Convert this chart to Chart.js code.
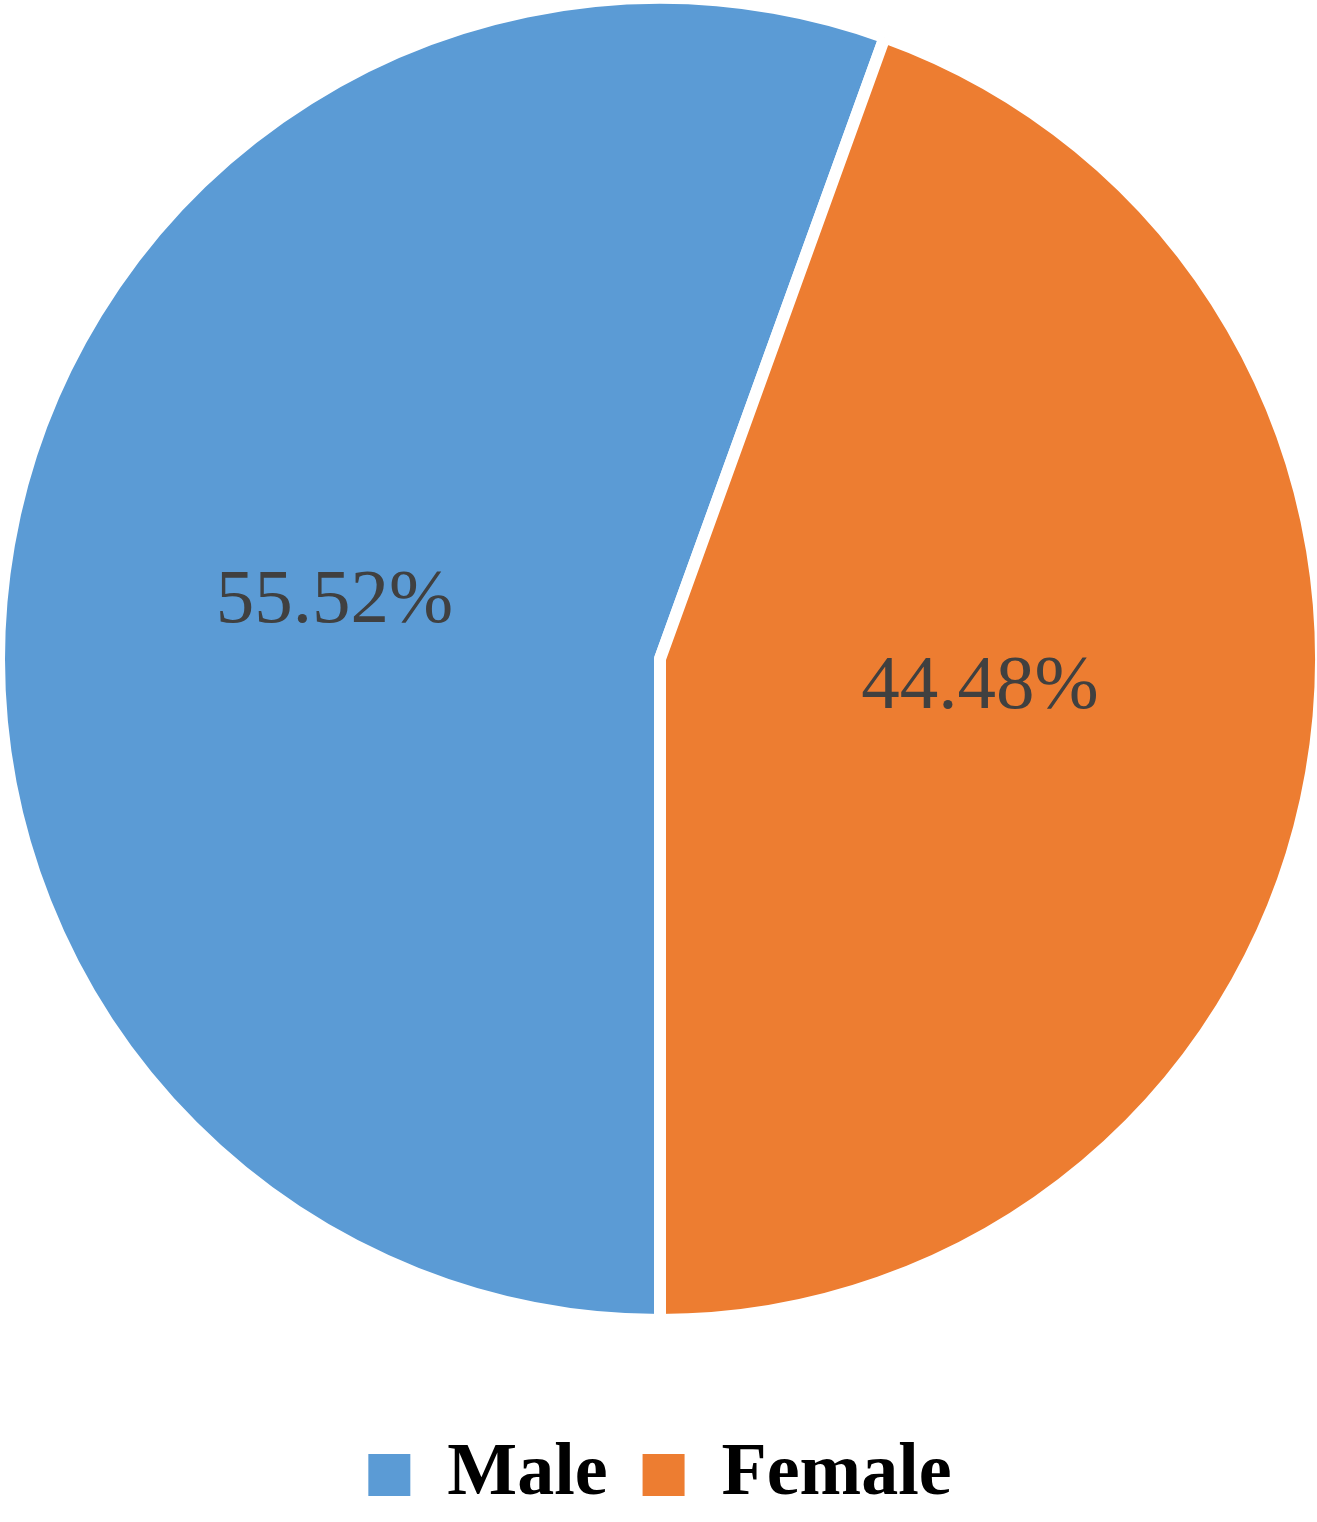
<!DOCTYPE html>
<html>
<head>
<meta charset="utf-8">
<script src="https://cdn.jsdelivr.net/npm/chart.js@4.4.1/dist/chart.umd.min.js"></script>
<style>
    html, body { margin: 0; padding: 0; background: #ffffff; }
    #wrap { width: 1317px; height: 1522px; }
</style>
</head>
<body>
<div id="wrap"><canvas id="genderPie"></canvas></div>
<script>
const categories = ["Male", "Female"];
const shares = [55.52, 44.48];
const sliceColors = ["#5B9BD5", "#ED7D31"];

// draws the percentage text inside each slice
const sliceLabels = {
    id: "sliceLabels",
    afterDatasetsDraw(chart, args, opts) {
        const ctx = chart.ctx;
        const meta = chart.getDatasetMeta(0);
        ctx.save();
        ctx.font = opts.font;
        ctx.fillStyle = opts.color;
        ctx.textAlign = "center";
        ctx.textBaseline = "middle";
        meta.data.forEach((arc, i) => {
            const p = opts.place[i] || { t: 0.5, r: 0.5 };
            const a = arc.startAngle + (arc.endAngle - arc.startAngle) * p.t;
            const r = arc.outerRadius * p.r;
            const x = arc.x + Math.cos(a) * r;
            const y = arc.y + Math.sin(a) * r;
            ctx.fillText(shares[i].toFixed(2) + "%", x, y);
        });
        ctx.restore();
    }
};

new Chart(document.getElementById("genderPie"), {
    type: "pie",
    data: {
        labels: categories,
        datasets: [{
            data: shares,
            backgroundColor: sliceColors,
            borderColor: "#ffffff",
            borderWidth: 12
        }]
    },
    options: {
        responsive: true,
        maintainAspectRatio: false,
        animation: false,
        rotation: 180,
        radius: 661,
        layout: { padding: { left: 3 } },
        plugins: {
            legend: {
                position: "bottom",
                // empty title only used as a spacer above the legend row
                title: { display: true, text: " ", font: { size: 1 }, padding: { top: 84, bottom: 0 } },
                labels: {
                    boxWidth: 42,
                    boxHeight: 42,
                    padding: 35,
                    color: "#000000",
                    font: { family: "'Liberation Serif', 'Times New Roman', serif", size: 74, weight: "bold" },
                    generateLabels(chart) {
                        const items = Chart.overrides.pie.plugins.legend.labels.generateLabels(chart);
                        return items.map(it => ({ ...it, lineWidth: 0, strokeStyle: it.fillStyle }));
                    }
                }
            },
            tooltip: { enabled: false },
            sliceLabels: {
                font: "77px 'Liberation Serif', 'Times New Roman', serif",
                color: "#404040",
                place: [{ t: 0.5, r: 0.5 }, { t: 0.47, r: 0.486 }]
            }
        }
    },
    plugins: [sliceLabels]
});
</script>
</body>
</html>
